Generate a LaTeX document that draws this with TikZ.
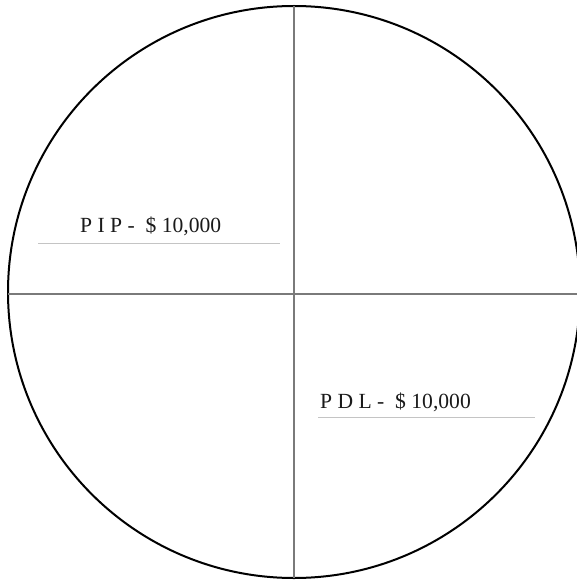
\documentclass[tikz,border=0pt]{standalone}
\usepackage{fontspec}
\setmainfont{Liberation Serif}
\definecolor{crossgray}{HTML}{7A7A7A}
\definecolor{rulegray}{HTML}{C4C4C4}
\definecolor{txt}{HTML}{1A1A1A}
\tikzset{
  ring/.style={draw=black, line width=2pt},
  cross/.style={draw=crossgray, line width=2pt},
  uline/.style={draw=rulegray, line width=1pt},
  label/.style={anchor=base west, inner sep=0pt, text=txt, font=\fontsize{21.6}{26}\selectfont}
}
\begin{document}
\begin{tikzpicture}[x=1pt,y=-1pt]
\useasboundingbox (0,0) rectangle (577,583);
\clip (0,0) rectangle (577,583);
\coordinate (c) at (294,292);
\draw[ring] (c) circle[radius=286];
\coordinate (top) at (294,6);
\coordinate (bot) at (294,578);
\coordinate (lft) at (8,294);
\coordinate (rgt) at (577,294);
\draw[cross] (top) -- (bot);
\draw[cross] (lft) -- (rgt);
\node[label] (pip) at (80,232) {P I P -\ \ \$ 10,000};
\node[label] (pdl) at (320,408) {P D L -\ \ \$ 10,000};
\coordinate (u1a) at (38,243);
\coordinate (u1b) at (280,243);
\coordinate (u2a) at (318,417);
\coordinate (u2b) at (535,417);
\draw[uline] (u1a) -- (u1b);
\draw[uline] (u2a) -- (u2b);
\end{tikzpicture}
\end{document}
